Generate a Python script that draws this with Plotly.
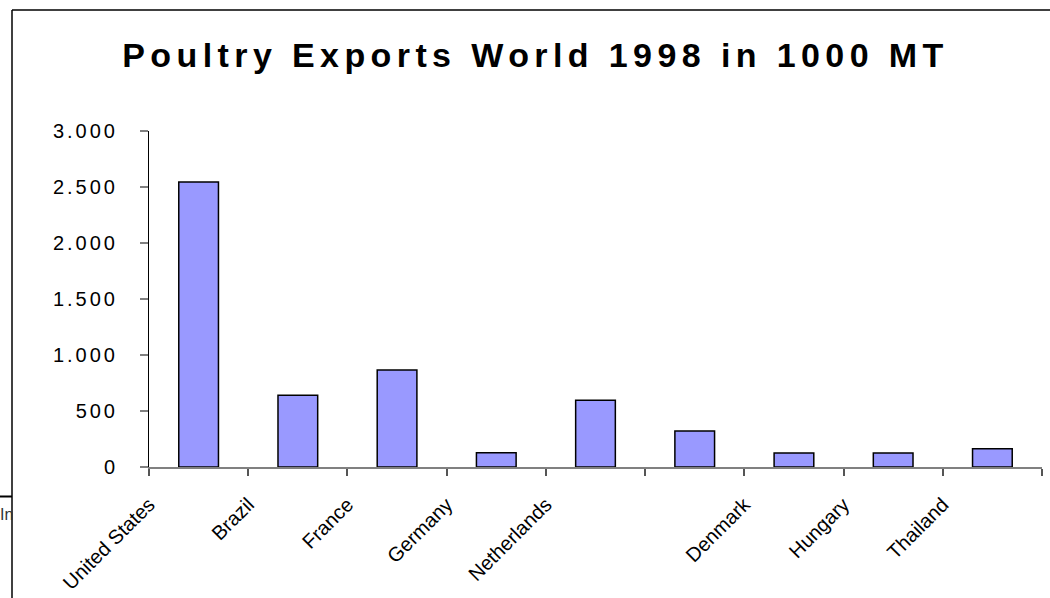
import plotly.graph_objects as go

title_text = "Poultry Exports World 1998 in 1000 MT"
categories = ["United States", "Brazil", "France", "Germany", "Netherlands", "", "Denmark", "Hungary", "Thailand"]
values = [2545, 640, 866, 128, 595, 321, 125, 125, 163]
y_ticks = [0, 500, 1000, 1500, 2000, 2500, 3000]

W, H = 1050, 598
ML, MR, MT, MB = 149, 8, 131, 131
PW, PH = W - ML - MR, H - MT - MB

def px(x):
    return (x - ML) / PW

def py(y):
    return (H - MB - y) / PH

positions = list(range(len(categories)))
boundaries = [p - 0.5 for p in positions] + [positions[-1] + 0.5]
tick_text = categories + [""]

fig = go.Figure()
fig.add_trace(go.Bar(
    x=positions, y=values, width=0.4,
    marker=dict(color="#9999FF", line=dict(color="black", width=1.5)),
    hoverinfo="skip",
))

font = "Liberation Sans, Arial, sans-serif"
fig.update_layout(
    width=W, height=H,
    margin=dict(l=ML, r=MR, t=MT, b=MB, autoexpand=False),
    paper_bgcolor="white", plot_bgcolor="white",
    separators=",.",
    showlegend=False,
    title=dict(text="<b>" + title_text + "</b>", x=(535.5) / W, xanchor="center",
               y=1 - 55 / H, yanchor="middle", yref="container",
               font=dict(family=font, size=34, color="black")),
    xaxis=dict(range=[-0.5, len(categories) - 0.5], tickmode="array",
               tickvals=boundaries, ticktext=tick_text, tickangle=-45,
               ticks="outside", ticklen=7, tickcolor="#555555", tickwidth=1.5,
               showline=True, linecolor="#808080", linewidth=2, automargin=False,
               showgrid=False, zeroline=False, ticklabelstandoff=9,
               tickfont=dict(family=font, size=20, color="black")),
    yaxis=dict(range=[0, 3000], tickmode="array", tickvals=y_ticks,
               tickformat=",d", ticks="outside", ticklen=8, tickcolor="#808080",
               tickwidth=1.5, showline=True, linecolor="black", linewidth=1, automargin=False,
               showgrid=False, zeroline=False, ticklabelstandoff=18,
               tickfont=dict(family=font, size=20, color="black")),
    shapes=[
        dict(type="line", xref="paper", yref="paper", x0=px(12), x1=px(12), y0=py(10), y1=py(600),
             line=dict(color="black", width=1.5)),
        dict(type="line", xref="paper", yref="paper", x0=px(12), x1=px(1052), y0=py(10), y1=py(10),
             line=dict(color="black", width=1.5)),
        dict(type="line", xref="paper", yref="paper", x0=px(-2), x1=px(12), y0=py(496.5), y1=py(496.5),
             line=dict(color="black", width=2)),
    ],
    annotations=[
        dict(text="In", xref="paper", yref="paper", x=px(-1), y=py(514), xanchor="left",
             yanchor="middle", showarrow=False, borderpad=0,
             font=dict(family=font, size=16, color="#333333")),
    ],
)

post = """
document.body.style.margin='0';
document.body.style.overflow='hidden';
var gd = document.getElementById('{plot_id}');
function ls(){
  gd.querySelectorAll('.gtitle').forEach(function(e){ e.style.letterSpacing='5.4px'; });
  gd.querySelectorAll('.ytick text').forEach(function(e){ e.style.letterSpacing='3px'; });
}
ls();
gd.on('plotly_afterplot', ls);
"""
fig.write_html("out.html", post_script=post, config={"displayModeBar": False})
